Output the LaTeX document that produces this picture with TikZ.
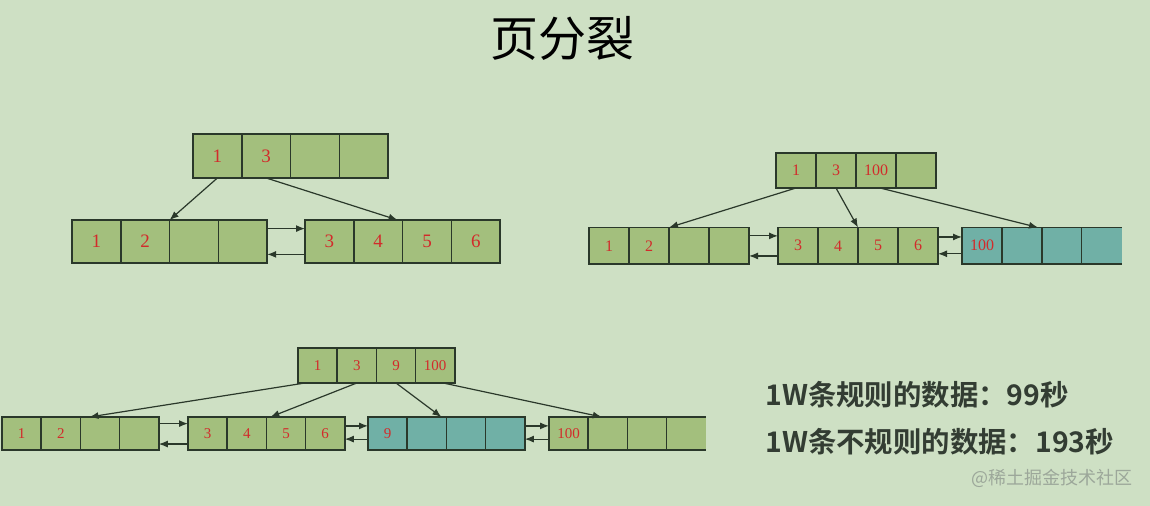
\documentclass[tikz,border=0pt]{standalone}
\usepackage{fontspec}
\setmainfont{Liberation Serif}
\newfontfamily\cjk{Noto Sans CJK SC}[BoldFont={Noto Sans CJK SC Bold}]
\usetikzlibrary{positioning, calc, arrows.meta}

\definecolor{bggreen}{HTML}{CEE0C4}
\definecolor{cellgreen}{HTML}{A3BF7D}
\definecolor{cellteal}{HTML}{70B0A6}
\definecolor{edgedark}{HTML}{2A382A}
\definecolor{numred}{HTML}{D22B2B}
\definecolor{textdark}{HTML}{333D33}
\definecolor{markgray}{HTML}{9CA79A}

% one page = a row of cells named <name>1, <name>2, ...
\newcommand{\pagerow}[4]{%
  \foreach \v [count=\i, remember=\i as \p (initially 0)] in {#4}{%
    \ifnum\i=1
      \node[#3, anchor=west] (#1\i) at (#2) {\v};
    \else
      \node[#3, right=0pt of #1\p] (#1\i) {\v};
    \fi
  }%
}

\begin{document}
\begin{tikzpicture}[
    x=0.5pt, y=-0.5pt,
    cell/.style={draw=edgedark, line width=0.75pt, fill=cellgreen, inner sep=0pt, outer sep=0pt, text=numred},
    tlcell/.style={cell, minimum width=24.4pt, minimum height=21.5pt, font=\fontsize{9.5}{12}\selectfont},
    trcell/.style={cell, minimum width=20pt, minimum height=18.25pt, font=\fontsize{8}{10}\selectfont},
    btcell/.style={cell, minimum width=19.6pt, minimum height=16.5pt, font=\fontsize{7.5}{9}\selectfont},
    edge/.style={draw=edgedark, line width=0.75pt},
    link/.style={draw=edgedark, line width=0.6pt, -{Latex[length=4.5pt, width=3.5pt]}},
    plain/.style={inner sep=0pt, font=\cjk}
  ]

  \path[use as bounding box, fill=bggreen] (0,0) rectangle (1150,506);

  \node[plain, font=\cjk\fontsize{24}{28}\selectfont, text=black] (title) at (562,38) {页分裂};

  % before the split
  \pagerow{oldroot}{193,156}{tlcell, minimum height=22pt}{1,3,{},{}}
  \pagerow{oldleft}{72,241.5}{tlcell}{1,2,{},{}}
  \pagerow{oldright}{305,241.5}{tlcell}{3,4,5,6}

  \draw[link] (oldroot1.south) -- (oldleft2.north east);
  \draw[link] (oldroot2.south) -- ($(oldright2.north east)+(-5,0)$);
  \draw[link] ($(oldleft4.north east)!0.2!(oldleft4.south east)$) -- ($(oldright1.north west)!0.2!(oldright1.south west)$);
  \draw[link] ($(oldright1.north west)!0.8!(oldright1.south west)$) -- ($(oldleft4.north east)!0.8!(oldleft4.south east)$);

  % ordered inserts
  \pagerow{seqroot}{776,170.5}{trcell, minimum height=17.5pt}{1,3,100,{}}
  \pagerow{seqa}{589,245.75}{trcell}{1,2,{},{}}
  \pagerow{seqb}{778,245.75}{trcell}{3,4,5,6}
  \pagerow{seqc}{962,245.75}{trcell, fill=cellteal}{100,{},{}}
  \node[trcell, fill=cellteal, draw=none, right=0pt of seqc3] (seqc4) {};
  \draw[edge] (seqc4.north west) -- (seqc4.north east) (seqc4.south west) -- (seqc4.south east);

  \draw[link] (seqroot1.south) -- (seqa2.north east);
  \draw[link] (seqroot2.south) -- (seqb2.north east);
  \draw[link] ($(seqroot3.south)+(4,0)$) -- ($(seqc2.north east)+(-4,0)$);
  \draw[link] ($(seqa4.north east)!0.23!(seqa4.south east)$) -- ($(seqb1.north west)!0.23!(seqb1.south west)$);
  \draw[link] ($(seqb1.north west)!0.78!(seqb1.south west)$) -- ($(seqa4.north east)!0.78!(seqa4.south east)$);
  \draw[link] ($(seqb4.north east)!0.26!(seqb4.south east)$) -- ($(seqc1.north west)!0.26!(seqc1.south west)$);
  \draw[link] ($(seqc1.north west)!0.72!(seqc1.south west)$) -- ($(seqb4.north east)!0.72!(seqb4.south east)$);

  % random inserts
  \pagerow{rndroot}{298,365.5}{btcell, minimum height=17.5pt}{1,3,9,100}
  \pagerow{rnda}{2,433.5}{btcell}{1,2,{},{}}
  \pagerow{rndb}{188,433.5}{btcell}{3,4,5,6}
  \pagerow{rndc}{368,433.5}{btcell, fill=cellteal}{9,{},{},{}}
  \pagerow{rndd}{549,433.5}{btcell}{100,{},{}}
  \node[btcell, draw=none, right=0pt of rndd3] (rndd4) {};
  \draw[edge] (rndd4.north west) -- (rndd4.north east) (rndd4.south west) -- (rndd4.south east);

  \draw[link] ($(rndroot1.south west)+(7,0)$) -- ($(rnda2.north east)+(9,0)$);
  \draw[link] (rndroot2.south) -- ($(rndb2.north east)+(4,0)$);
  \draw[link] (rndroot3.south) -- ($(rndc2.north east)+(-5,0)$);
  \draw[link] ($(rndroot4.south)+(8,0)$) -- ($(rndd2.north)+(-6,0)$);
  \draw[link] ($(rnda4.north east)!0.2!(rnda4.south east)$) -- ($(rndb1.north west)!0.2!(rndb1.south west)$);
  \draw[link] ($(rndb1.north west)!0.82!(rndb1.south west)$) -- ($(rnda4.north east)!0.82!(rnda4.south east)$);
  \draw[link] ($(rndb4.north east)!0.27!(rndb4.south east)$) -- ($(rndc1.north west)!0.27!(rndc1.south west)$);
  \draw[link] ($(rndc1.north west)!0.67!(rndc1.south west)$) -- ($(rndb4.north east)!0.67!(rndb4.south east)$);
  \draw[link] ($(rndc4.north east)!0.27!(rndc4.south east)$) -- ($(rndd1.north west)!0.27!(rndd1.south west)$);
  \draw[link] ($(rndd1.north west)!0.67!(rndd1.south west)$) -- ($(rndc4.north east)!0.67!(rndc4.south east)$);

  % timings
  \node[plain, anchor=west, font=\cjk\bfseries\fontsize{14.2}{17}\selectfont, text=textdark] (timeseq) at (765,395) {1W条规则的数据：99秒};
  \node[plain, anchor=west, font=\cjk\bfseries\fontsize{14.2}{17}\selectfont, text=textdark] (timernd) at (765,442) {1W条不规则的数据：193秒};
  \node[plain, anchor=east, font=\cjk\fontsize{9}{11}\selectfont, text=markgray] (mark) at (1133,478) {@稀土掘金技术社区};

\end{tikzpicture}
\end{document}
